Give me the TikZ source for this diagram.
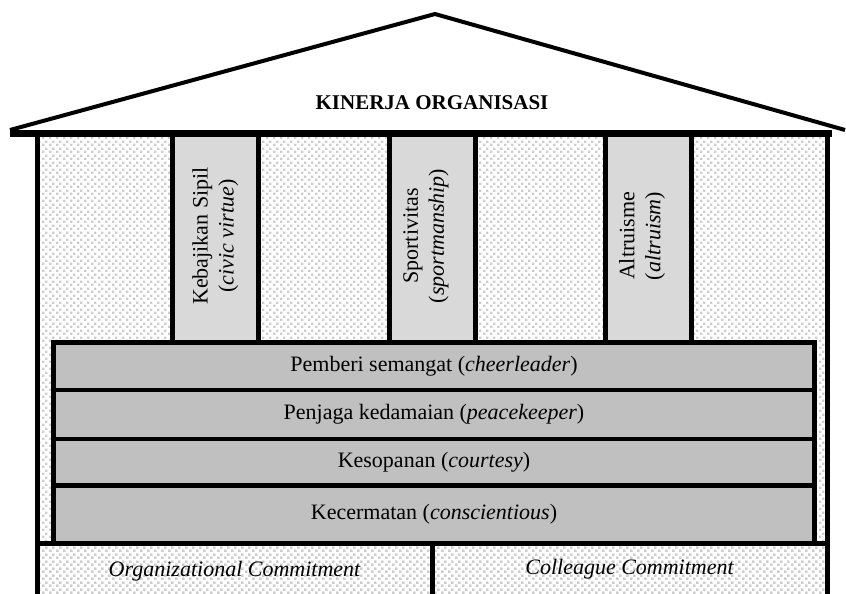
\documentclass[tikz,border=0pt]{standalone}
\usepackage{fontspec}
\setmainfont{Liberation Serif}
\usetikzlibrary{patterns.meta}
\definecolor{pillargray}{HTML}{D9D9D9}
\definecolor{layergray}{HTML}{C0C0C0}
\definecolor{dotgray}{HTML}{CDCDCD}
\tikzdeclarepattern{
  name=stipple,
  type=uncolored,
  bounding box={(0pt,0pt) and (7pt,7pt)},
  tile size={(7pt,7pt)},
  code={
    \pgfpathrectangle{\pgfpointorigin}{\pgfpoint{2.6pt}{2.6pt}}
    \pgfpathrectangle{\pgfpoint{3.5pt}{3.5pt}}{\pgfpoint{2.6pt}{2.6pt}}
    \pgfusepath{fill}
  }
}
\tikzset{
  txt/.style={font=\fontsize{22}{26}\selectfont},
  pillarbox/.style={draw, line width=5pt, fill=pillargray, rectangle, inner sep=0pt,
    minimum width=85.5pt, minimum height=208.5pt},
  pillartext/.style={txt, rotate=90, align=center, inner sep=0pt},
  layerbox/.style={draw, line width=4.5pt, fill=layergray, rectangle, inner sep=0pt,
    minimum width=761pt, txt},
  basebox/.style={draw, line width=5pt, rectangle, inner sep=0pt,
    pattern={stipple}, pattern color=dotgray, txt},
  wall/.style={line width=5pt},
}
\begin{document}
\begin{tikzpicture}[x=1pt, y=-1pt]
\useasboundingbox (0,0) rectangle (846,594);
% house interior
\fill[pattern={stipple}, pattern color=dotgray] (37.5,133.5) rectangle (827.5,600);
% pillars
\node[pillarbox] (p1) at (215.25,238.25) {};
\node[pillartext] (t1) at (215.25,236) {Kebajikan Sipil\\(\textit{civic virtue})};
\node[pillarbox] (p2) at (432.5,238.25) {};
\node[pillartext] (t2) at (426,236) {Sportivitas\\(\textit{sportmanship})};
\node[pillarbox] (p3) at (648.5,238.25) {};
\node[pillartext] (t3) at (642,236) {Altruisme\\(\textit{altruism})};
% layers
\node[layerbox, minimum height=47.5pt] (l1) at (434,366.25) {Pemberi semangat (\textit{cheerleader})};
\node[layerbox, minimum height=49pt] (l2) at (434,414.5) {Penjaga kedamaian (\textit{peacekeeper})};
\node[layerbox, minimum height=46.5pt] (l3) at (434,462.25) {Kesopanan (\textit{courtesy})};
\node[layerbox, minimum height=58pt] (l4) at (434,514.5) {Kecermatan (\textit{conscientious})};
% base boxes
\node[basebox, minimum width=394.5pt, minimum height=56.5pt] (b1) at (234.75,571.75) {};
\node[txt] (bt1) at (234.75,571) {\textit{Organizational Commitment}};
\node[basebox, minimum width=395.5pt, minimum height=56.5pt] (b2) at (629.75,571.75) {};
\node[txt] (bt2) at (629.75,569) {\textit{Colleague Commitment}};
% walls
\coordinate (wl1) at (37.5,133.5);
\coordinate (wl2) at (37.5,600);
\coordinate (wr1) at (827.5,133.5);
\coordinate (wr2) at (827.5,600);
\draw[wall] (wl1) -- (wl2);
\draw[wall] (wr1) -- (wr2);
% roof
\coordinate (rl) at (10,130);
\coordinate (ra) at (435,14);
\coordinate (rr) at (845,130);
\coordinate (bl) at (10,133.5);
\coordinate (br) at (832,133.5);
\draw[line width=7pt] (bl) -- (br);
\draw[line width=4pt, line join=miter] (rl) -- (ra) -- (rr);
\node[font=\fontsize{21}{24}\selectfont\bfseries] (title) at (432,103) {KINERJA ORGANISASI};
\end{tikzpicture}
\end{document}
